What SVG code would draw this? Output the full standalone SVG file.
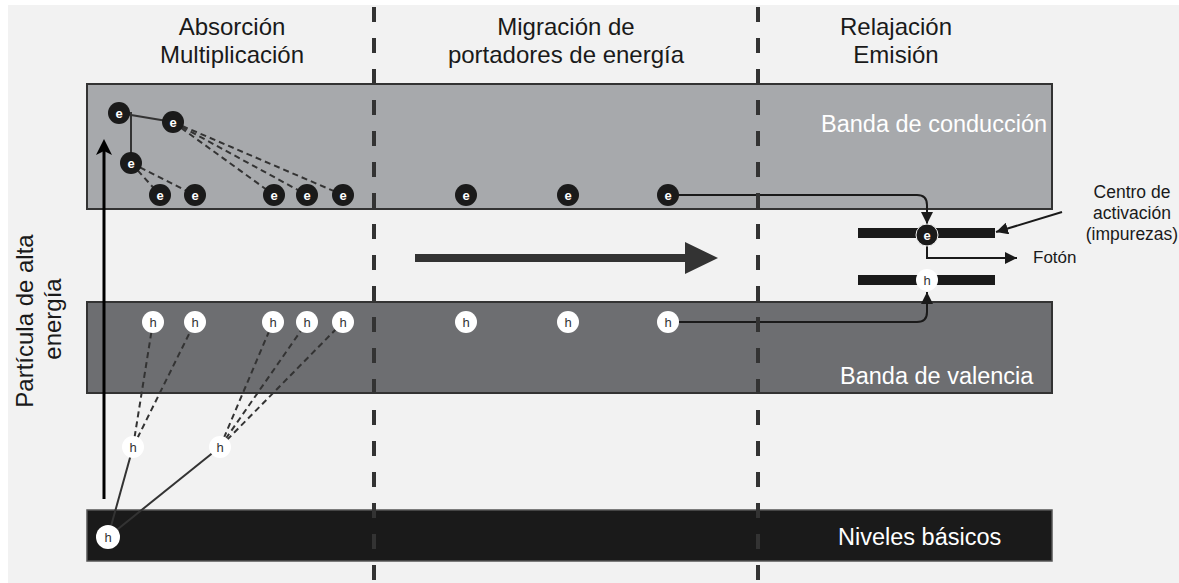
<svg xmlns="http://www.w3.org/2000/svg" width="1179" height="583" viewBox="0 0 1179 583">
<defs>
<style>
.t{font-family:"Liberation Sans",Arial,sans-serif;fill:#1a1a1a}
.title{font-size:24px;text-anchor:middle}
.band{font-size:23.5px;fill:#ffffff}
.small{font-size:17.5px;text-anchor:middle}
.el{fill:#1a1a1a}
.elt{font-family:"Liberation Sans",Arial,sans-serif;font-size:13px;font-weight:bold;fill:#ffffff;text-anchor:middle}
.ho{fill:#ffffff}
.hot{font-family:"Liberation Sans",Arial,sans-serif;font-size:13px;fill:#333333;text-anchor:middle}
.dash{stroke:#333333;stroke-width:2;stroke-dasharray:6 4;fill:none}
.solid{stroke:#333333;stroke-width:2;fill:none}
.conn{stroke:#1a1a1a;stroke-width:2;fill:none}
.sep{stroke:#333333;stroke-width:4;stroke-dasharray:15 16;fill:none}
</style>
<marker id="ah" viewBox="0 0 12 12" refX="12" refY="6" markerWidth="12" markerHeight="12" markerUnits="userSpaceOnUse" orient="auto">
<path d="M0,0 L12,6 L0,12 z" fill="#1a1a1a"/>
</marker>
</defs>

<rect x="0" y="0" width="1179" height="583" fill="#ffffff"/>
<rect x="8" y="5" width="1171" height="578" fill="#f2f2f2"/>

<g id="bands">
<rect id="conduccion" x="87" y="84" width="965" height="125" fill="#a7a9ac" stroke="#333333" stroke-width="2"/>
<rect id="valencia" x="87" y="302" width="965" height="91" fill="#6d6e71" stroke="#333333" stroke-width="2"/>
<rect id="basicos" x="87" y="510" width="965" height="51" fill="#1a1a1a" stroke="#555555" stroke-width="1.5"/>
<text class="t band" x="821" y="132">Banda de conducción</text>
<text class="t band" x="840" y="384">Banda de valencia</text>
<text class="t band" x="838" y="545">Niveles básicos</text>
</g>

<g id="titles">
<text class="t title" x="232" y="35">Absorción</text>
<text class="t title" x="232" y="63">Multiplicación</text>
<text class="t title" x="566" y="35">Migración de</text>
<text class="t title" x="566" y="63">portadores de energía</text>
<text class="t title" x="896" y="35">Relajación</text>
<text class="t title" x="896" y="63">Emisión</text>
<text class="t title" font-size="25" transform="translate(33,321) rotate(-90)">Partícula de alta</text>
<text class="t title" font-size="25" transform="translate(61,319) rotate(-90)">energía</text>
</g>

<g id="connectors">
<line class="solid" x1="119" y1="113" x2="173" y2="122"/>
<polyline class="solid" points="119,113 131,113 131,163"/>
<line class="dash" x1="173" y1="122" x2="274" y2="195"/>
<line class="dash" x1="173" y1="122" x2="307" y2="195"/>
<line class="dash" x1="173" y1="122" x2="343" y2="195"/>
<line class="dash" x1="131" y1="163" x2="160" y2="195"/>
<line class="dash" x1="131" y1="163" x2="195" y2="195"/>
<line class="dash" x1="133" y1="447" x2="153" y2="322"/>
<line class="dash" x1="133" y1="447" x2="195" y2="322"/>
<line class="dash" x1="220" y1="447" x2="273" y2="322"/>
<line class="dash" x1="220" y1="447" x2="307" y2="322"/>
<line class="dash" x1="220" y1="447" x2="343" y2="322"/>
<line class="solid" x1="108" y1="537" x2="133" y2="447"/>
<line class="solid" x1="108" y1="537" x2="220" y2="447"/>
<line x1="104" y1="499" x2="104" y2="150" stroke="#000000" stroke-width="3"/>
<path d="M104,139 L96,155 L104,151 L112,155 z" fill="#000000"/>
<path d="M415,254 H685 V242 L718,258 L685,274 V262 H415 z" fill="#333333"/>
<path class="conn" d="M668,195 H917 Q927,195 927,205 V224" marker-end="url(#ah)"/>
<path class="conn" d="M668,322 H917 Q927,322 927,312 V292" marker-end="url(#ah)"/>
<path class="conn" d="M927,246 V258 H1017" marker-end="url(#ah)"/>
<line class="conn" x1="1062" y1="212" x2="996" y2="232" marker-end="url(#ah)"/>
</g>

<g id="activacion">
<rect x="858" y="228" width="137" height="10" fill="#1a1a1a"/>
<rect x="858" y="275" width="137" height="10" fill="#1a1a1a"/>
<text class="t small" x="1132" y="198">Centro de</text>
<text class="t small" x="1132" y="219">activación</text>
<text class="t small" x="1132" y="240">(impurezas)</text>
<text class="t" x="1033" y="263" font-size="17">Fotón</text>
</g>

<g id="electrones">
<g id="e1"><circle class="el" cx="119" cy="113" r="11"/><text class="elt" x="119" y="117.5">e</text></g>
<g id="e2"><circle class="el" cx="173" cy="122" r="11"/><text class="elt" x="173" y="126.5">e</text></g>
<g id="e3"><circle class="el" cx="131" cy="163" r="11"/><text class="elt" x="131" y="167.5">e</text></g>
<g id="e4"><circle class="el" cx="160" cy="195" r="11"/><text class="elt" x="160" y="199.5">e</text></g>
<g id="e5"><circle class="el" cx="195" cy="195" r="11"/><text class="elt" x="195" y="199.5">e</text></g>
<g id="e6"><circle class="el" cx="274" cy="195" r="11"/><text class="elt" x="274" y="199.5">e</text></g>
<g id="e7"><circle class="el" cx="307" cy="195" r="11"/><text class="elt" x="307" y="199.5">e</text></g>
<g id="e8"><circle class="el" cx="343" cy="195" r="11"/><text class="elt" x="343" y="199.5">e</text></g>
<g id="e9"><circle class="el" cx="466" cy="195" r="11"/><text class="elt" x="466" y="199.5">e</text></g>
<g id="e10"><circle class="el" cx="568" cy="195" r="11"/><text class="elt" x="568" y="199.5">e</text></g>
<g id="e11"><circle class="el" cx="668" cy="195" r="11"/><text class="elt" x="668" y="199.5">e</text></g>
<g id="e12"><circle class="el" cx="927" cy="235" r="11" stroke="#f2f2f2" stroke-width="1"/><text class="elt" x="927" y="239.5">e</text></g>
</g>

<g id="huecos">
<g id="h1"><circle class="ho" cx="153" cy="322" r="11"/><text class="hot" x="153" y="326.5">h</text></g>
<g id="h2"><circle class="ho" cx="195" cy="322" r="11"/><text class="hot" x="195" y="326.5">h</text></g>
<g id="h3"><circle class="ho" cx="273" cy="322" r="11"/><text class="hot" x="273" y="326.5">h</text></g>
<g id="h4"><circle class="ho" cx="307" cy="322" r="11"/><text class="hot" x="307" y="326.5">h</text></g>
<g id="h5"><circle class="ho" cx="343" cy="322" r="11"/><text class="hot" x="343" y="326.5">h</text></g>
<g id="h6"><circle class="ho" cx="466" cy="322" r="11"/><text class="hot" x="466" y="326.5">h</text></g>
<g id="h7"><circle class="ho" cx="568" cy="322" r="11"/><text class="hot" x="568" y="326.5">h</text></g>
<g id="h8"><circle class="ho" cx="668" cy="322" r="11"/><text class="hot" x="668" y="326.5">h</text></g>
<g id="h9"><circle class="ho" cx="133" cy="447" r="11"/><text class="hot" x="133" y="451.5">h</text></g>
<g id="h10"><circle class="ho" cx="220" cy="447" r="11"/><text class="hot" x="220" y="451.5">h</text></g>
<g id="h11"><circle class="ho" cx="108" cy="537" r="12"/><text class="hot" x="108" y="541.5">h</text></g>
<g id="h12"><circle class="ho" cx="927" cy="280" r="11"/><text class="hot" x="927" y="284.5">h</text></g>
</g>

<g id="separadores">
<line class="sep" x1="374" y1="7" x2="374" y2="583"/>
<line class="sep" x1="758" y1="7" x2="758" y2="583"/>
</g>
</svg>
